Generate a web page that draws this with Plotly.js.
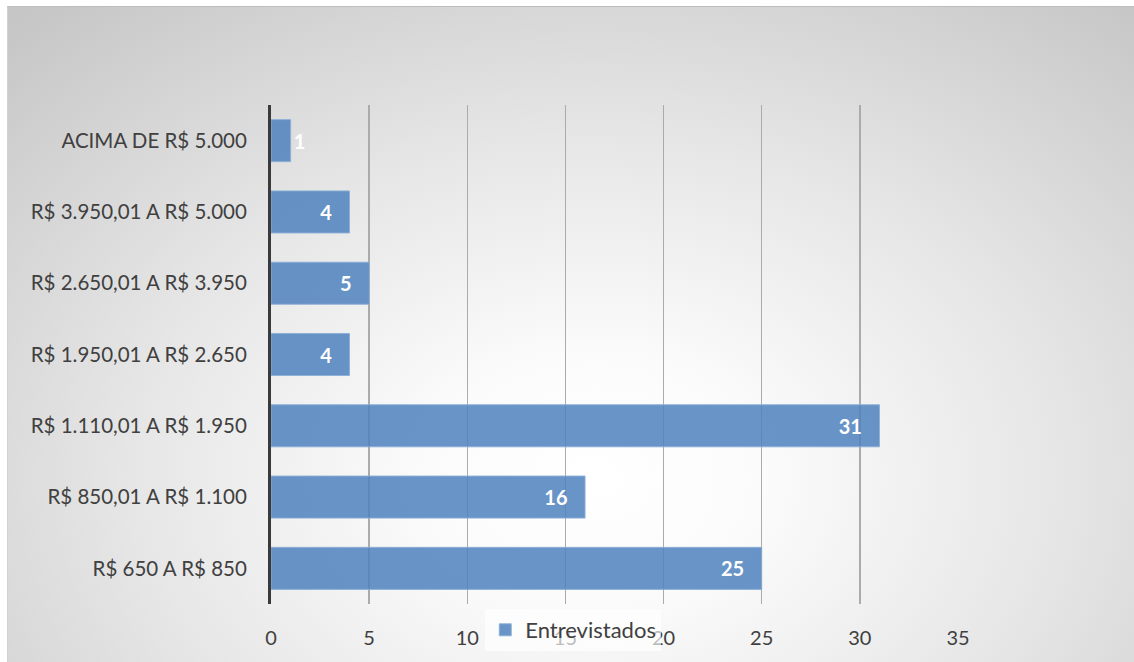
<!DOCTYPE html>
<html>
<head>
<meta charset="utf-8">
<script src="https://cdn.plot.ly/plotly-3.0.1.min.js"></script>
<style>
  html, body { margin: 0; padding: 0; background: #ffffff; }
  #wrap { position: relative; width: 1134px; height: 662px; overflow: hidden; }
  #bg { position: absolute; left: 7px; top: 6px; width: 1127px; height: 656px;
        border-top: 1px solid #bdbdbd; border-left: 1px solid #d0d0d0; box-sizing: border-box;
        background: radial-gradient(ellipse 75% 95% at 52% 72%, #ffffff 0%, #fbfbfb 20%, #e6e6e6 55%, #c6c6c6 100%); }
  #chart { position: absolute; left: 0; top: 0; width: 1134px; height: 662px; }
</style>
</head>
<body>
<div id="wrap">
  <div id="bg"></div>
  <div id="chart"></div>
</div>
<script>
const categories = [
  "R$ 650 A R$ 850",
  "R$ 850,01 A R$ 1.100",
  "R$ 1.110,01 A R$ 1.950",
  "R$ 1.950,01 A R$ 2.650",
  "R$ 2.650,01 A R$ 3.950",
  "R$ 3.950,01 A R$ 5.000",
  "ACIMA DE R$ 5.000"
];
const entrevistados = [25, 16, 31, 4, 5, 4, 1];
const seriesName = "Entrevistados";
const xTickValues = [0, 5, 10, 15, 20, 25, 30, 35];

const FONT = "Lato, 'Open Sans', 'DejaVu Sans', sans-serif";

const trace = {
  type: "bar",
  orientation: "h",
  name: seriesName,
  y: categories,
  x: entrevistados,
  marker: { color: "rgba(79,129,189,0.85)", line: { color: "rgba(140,175,215,0.9)", width: 1 } },
  text: entrevistados.map(v => String(v)),
  texttemplate: "%{text}\u00a0\u00a0\u00a0",
  textposition: entrevistados.map(v => v < 2 ? "outside" : "inside"),
  insidetextanchor: "end",
  constraintext: "none",
  cliponaxis: false,
  textfont: { family: FONT, size: 20, color: "#ffffff", weight: "bold" },
  insidetextfont: { family: FONT, size: 20, color: "#ffffff", weight: "bold" },
  outsidetextfont: { family: FONT, size: 20, color: "#ffffff", weight: "bold" },
  hoverinfo: "x+y"
};

const layout = {
  width: 1134,
  height: 662,
  paper_bgcolor: "rgba(0,0,0,0)",
  plot_bgcolor: "rgba(0,0,0,0)",
  margin: { l: 271, r: 176, t: 105, b: 57, pad: 0 },
  bargap: 0.41,
  showlegend: true,
  font: { family: FONT, size: 20, color: "#404040" },
  xaxis: {
    range: [0, 35],
    tickvals: xTickValues,
    ticktext: xTickValues.map(String),
    showgrid: true,
    gridcolor: "#ababab",
    gridwidth: 1.3,
    zeroline: false,
    showline: false,
    ticks: "",
    ticklabelstandoff: 20,
    tickfont: { family: FONT, size: 20, color: "#404040" },
    fixedrange: true
  },
  yaxis: {
    type: "category",
    showgrid: false,
    zeroline: false,
    showline: true,
    linecolor: "#3a3a3a",
    linewidth: 3,
    ticks: "",
    ticklabelstandoff: 17,
    tickfont: { family: FONT, size: 20.5, color: "#404040" },
    fixedrange: true
  },
  legend: {
    x: 0.44,
    xanchor: "center",
    y: -0.05,
    yanchor: "middle",
    orientation: "h",
    bgcolor: "rgba(255,255,255,0.65)",
    borderwidth: 0,
    itemwidth: 30,
    font: { family: FONT, size: 22, color: "#404040" }
  }
};

Plotly.newPlot("chart", [trace], layout, { displayModeBar: false, staticPlot: true });
</script>
</body>
</html>
